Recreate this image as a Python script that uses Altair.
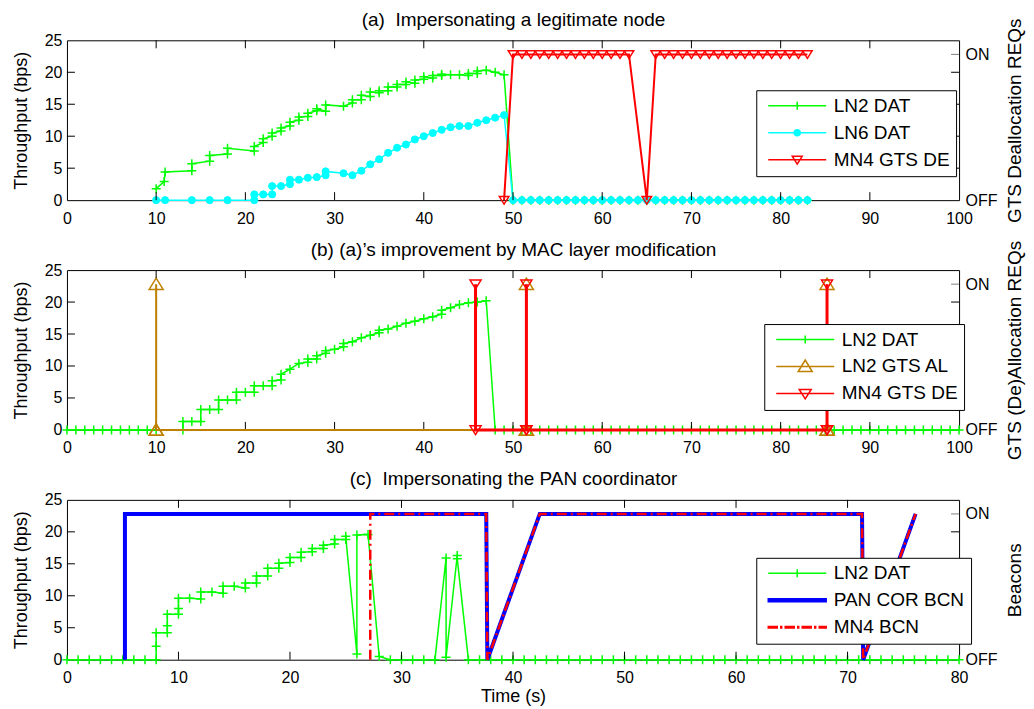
import altair as alt
import pandas as pd

FONT = "Liberation Sans"
W, H = 893, 160
ON_LEVEL = 22.8          # throughput-axis height of the "ON" state
GREEN, CYAN, RED, BROWN, BLUE = "#00FF00", "#00FFFF", "#FF0000", "#BF8000", "#0000FF"

# ---------------- panel (a) ----------------
A_LN2_X = [10, 10.9, 11, 14, 14, 16, 16, 18, 18, 21, 21, 22, 22, 23, 23, 24, 24, 25, 25, 26, 26,
           27, 27, 28, 28, 29, 29, 31, 32, 32, 33, 33, 34, 34, 35, 35, 36, 36, 37, 37, 38, 38, 39, 39,
           40, 40, 41, 41, 42, 42, 43, 44, 45, 45, 46, 46, 47, 48, 49,
           50, 51, 52, 53, 54, 55, 56, 57, 58, 59, 60, 61, 62, 63, 64, 65, 66, 67, 68, 69, 70, 71,
           72, 73, 74, 75, 76, 77, 78, 79, 80, 81, 82, 83]
A_LN2_Y = [1.8, 2.9, 4.4, 4.6, 5.7, 6.1, 7.0, 7.2, 8.1, 7.7, 8.4, 9.0, 9.6, 10.0, 10.5, 10.8, 11.3,
           11.6, 12.2, 12.5, 13.0, 13.1, 13.6, 14.0, 14.3, 13.9, 14.9, 14.7, 15.2, 15.7, 15.7, 16.4,
           16.2, 16.9, 16.8, 17.1, 17.1, 17.7, 17.7, 18.1, 18.1, 18.5, 18.3, 18.8, 18.9, 19.3, 19.1,
           19.5, 19.5, 19.7, 19.6, 19.6, 19.5, 19.8, 19.8, 20.2, 20.3, 20.0, 19.6,
           0, 0, 0, 0, 0, 0, 0, 0, 0, 0, 0, 0, 0, 0, 0, 0, 0, 0, 0, 0, 0, 0,
           0, 0, 0, 0, 0, 0, 0, 0, 0, 0, 0, 0]
A_LN6_X = [10, 11, 14, 16, 18, 21, 21, 22, 23, 23, 24, 25, 25, 26, 27, 28, 29, 29, 31, 32, 33, 34,
           35, 36, 37, 38, 39, 40, 41, 42, 43, 44, 45, 46, 47, 48, 49,
           50, 51, 52, 53, 54, 55, 56, 57, 58, 59, 60, 61, 62, 63, 64, 65, 66, 67, 68, 69, 70, 71,
           72, 73, 74, 75, 76, 77, 78, 79, 80, 81, 82, 83]
A_LN6_Y = [0, 0, 0, 0, 0, 0, 0.9, 0.9, 0.9, 2.2, 2.2, 2.5, 3.2, 3.2, 3.5, 3.6, 3.9, 4.5, 4.2, 3.9,
           4.6, 5.6, 6.4, 7.4, 8.2, 8.7, 9.5, 10.0, 10.5, 11.0, 11.4, 11.6, 11.6, 12.1, 12.5, 12.9, 13.3,
           0, 0, 0, 0, 0, 0, 0, 0, 0, 0, 0, 0, 0, 0, 0, 0, 0, 0, 0, 0, 0, 0,
           0, 0, 0, 0, 0, 0, 0, 0, 0, 0, 0, 0]
A_MN4_X = [49, 50, 51, 52, 53, 54, 55, 56, 57, 58, 59, 60, 61, 62, 63, 65,
           66, 67, 68, 69, 70, 71, 72, 73, 74, 75, 76, 77, 78, 79, 80, 81, 82, 83]
A_MN4_S = [0, 1, 1, 1, 1, 1, 1, 1, 1, 1, 1, 1, 1, 1, 1, 0,
           1, 1, 1, 1, 1, 1, 1, 1, 1, 1, 1, 1, 1, 1, 1, 1, 1, 1]

# ---------------- panel (b) ----------------
B_LN2_X = [0, 1, 2, 3, 4, 5, 6, 7, 8, 9, 10, 13, 13, 14, 15, 15, 16, 17, 17, 18, 19, 19, 20, 21, 21,
           22, 23, 23, 24, 24, 25, 26, 27, 27, 28, 28, 29, 29, 30, 31, 31, 32, 33, 34, 35, 35, 36, 37,
           38, 39, 40, 41, 42, 42, 43, 44, 45, 46, 47,
           48, 49, 50, 51, 52, 53, 54, 55, 56, 57, 58, 59, 60, 61, 62, 63, 64, 65, 66, 67, 68, 69,
           70, 71, 72, 73, 74, 75, 76, 77, 78, 79, 80, 81, 82, 83, 84, 85, 86, 87, 88, 89, 90, 91,
           92, 93, 94, 95, 96, 97, 98, 99, 100]
B_LN2_Y = [0, 0, 0, 0, 0, 0, 0, 0, 0, 0, 0, 0, 1.3, 1.3, 1.3, 3.2, 3.2, 3.2, 4.7, 4.7, 4.7, 5.9, 5.9,
           5.9, 6.9, 6.9, 6.9, 7.7, 7.8, 8.7, 9.5, 10.4, 10.6, 11.1, 11.1, 11.6, 12.0, 12.4, 12.6,
           13.0, 13.5, 13.8, 14.4, 14.8, 15.2, 15.6, 15.8, 16.2, 16.7, 17.0, 17.4, 17.7, 18.1, 18.7,
           19.1, 19.6, 19.9, 20.0, 20.2,
           0, 0, 0, 0, 0, 0, 0, 0, 0, 0, 0, 0, 0, 0, 0, 0, 0, 0, 0, 0, 0, 0,
           0, 0, 0, 0, 0, 0, 0, 0, 0, 0, 0, 0, 0, 0, 0, 0, 0, 0, 0, 0, 0, 0,
           0, 0, 0, 0, 0, 0, 0, 0, 0]
B_AL_X = [10, 10, 10, 51.5, 51.5, 51.5, 85.2, 85.2, 85.2]
B_AL_S = [0, 1, 0, 0, 1, 0, 0, 1, 0]
B_DE_X = [45.8, 45.8, 51.5, 51.5, 51.5, 85.2, 85.2, 85.2]
B_DE_S = [1, 0, 0, 1, 0, 0, 1, 0]

# ---------------- panel (c) ----------------
C_LN2_X = [0, 1, 2, 3, 4, 5, 6, 7, 8, 8, 8, 9, 9, 9, 10, 10, 10, 11, 12, 12, 13, 14, 14, 15, 16,
           16, 17, 17, 18, 18, 19, 19, 20, 20, 21, 21, 22, 22, 23, 23, 24, 24, 25, 25, 26, 26, 27,
           28, 29, 30, 31, 32, 33, 34, 34, 35, 35, 36,
           37, 38, 39, 40, 41, 42, 43, 44, 45, 46, 47, 48, 49, 50, 51, 52, 53, 54, 55, 56, 57, 58,
           59, 60, 61, 62, 63, 64, 65, 66, 67, 68, 69, 70, 71, 72, 73, 74, 75, 76, 77, 78, 79, 80]
C_LN2_Y = [0, 0, 0, 0, 0, 0, 0, 0, 0, 2.1, 4.2, 4.2, 5.3, 7.1, 7.1, 8.0, 9.6, 9.6, 9.5, 10.6, 10.6,
           10.4, 11.5, 11.5, 11.2, 12.0, 12.0, 13.1, 13.1, 14.3, 14.3, 15.1, 15.2, 16.0, 16.0, 16.8,
           16.9, 17.4, 17.4, 17.9, 18.1, 18.8, 18.8, 19.3, 0.9, 19.5, 19.6, 0.5, 0, 0, 0, 0, 0,
           15.9, 0.4, 16.3, 15.8, 0,
           0, 0, 0, 0, 0, 0, 0, 0, 0, 0, 0, 0, 0, 0, 0, 0, 0, 0, 0, 0, 0, 0,
           0, 0, 0, 0, 0, 0, 0, 0, 0, 0, 0, 0, 0, 0, 0, 0, 0, 0, 0, 0, 0, 0]
C_PAN_X = [5.2, 5.2, 37.6, 37.7, 42.4, 71.3, 71.4, 76.1]
C_PAN_S = [0, 1, 1, 0, 1, 1, 0, 1]
C_MN4_X = [27.2, 27.2, 37.6, 37.7, 42.4, 71.3, 71.4, 76.1]
C_MN4_S = [0, 1, 1, 0, 1, 1, 0, 1]

Y_TICKS = [0, 5, 10, 15, 20, 25]
X_TICKS_100 = [0, 10, 20, 30, 40, 50, 60, 70, 80, 90, 100]
X_TICKS_80 = [0, 10, 20, 30, 40, 50, 60, 70, 80]

# marker shapes (custom paths, unit box)
CROSS = "M-1,0H1M0,-1V1"
TRI_DOWN = "M-1,-0.75L1,-0.75L0,0.85Z"
TRI_UP = "M-1,0.75L1,0.75L0,-0.85Z"

# legend symbols (1 unit = 5 px at symbol size 100)
LG_LINE = "M-5.8,0H5.8"
LG_CROSS = LG_LINE + "M0,-0.8V0.8"
LG_DOT = LG_LINE + "M0.6,0A0.6,0.6,0,1,1,-0.6,0A0.6,0.6,0,1,1,0.6,0Z"
LG_TRI_DOWN_A = LG_LINE + "M-1,-0.7L1,-0.7L0,0.9Z"
LG_TRI_UP_B = LG_LINE + "M-1.4,1L1.4,1L0,-1.3Z"
LG_TRI_DOWN_B = LG_LINE + "M-1.2,-0.8L1.2,-0.8L0,1.1Z"
LG_THICK = "M-5.8,-0.3H5.8V0.3H-5.8Z"
LG_DASHDOT = ("M-5.8,-0.15H-4V0.15H-5.8Z M-3.3,-0.15H-3.1V0.15H-3.3Z M-2.4,-0.15H-0.6V0.15H-2.4Z "
              "M0.1,-0.15H0.3V0.15H0.1Z M1,-0.15H2.8V0.15H1Z M3.5,-0.15H3.7V0.15H3.5Z M4.4,-0.15H5.8V0.15H4.4Z")


def frame(xs, ys, col="y"):
    assert len(xs) == len(ys)
    return pd.DataFrame({"x": xs, col: ys, "i": list(range(len(xs)))})


def make_legend(lx, ly):
    return alt.Legend(
        orient="none", legendX=lx, legendY=ly, title=None, padding=6,
        symbolSize=100, symbolOffset=25.5, labelOffset=27, rowPadding=7,
        labelFontSize=19, labelFont=FONT, labelColor="black",
        strokeColor="black", fillColor="white", cornerRadius=0, symbolStrokeWidth=1.5,
        symbolOpacity=1,
    )


def panel(title, xmax, xticks, xtitle, right_title, left_specs, right_specs, names, colors,
          shapes, fills, lx, ly):
    xscale = alt.Scale(domain=[0, xmax], nice=False, zero=False)
    X = alt.X("x:Q", scale=xscale,
              axis=alt.Axis(orient="bottom", values=xticks, ticks=False, tickSize=0, domain=False,
                            grid=False, labelPadding=10, labelFontSize=16, labelFlush=False,
                            title=xtitle, titleFontSize=18, titlePadding=2))
    # separate (identical) x scale whose top axis carries the panel title only
    XT = alt.X("x:Q", scale=xscale,
               axis=alt.Axis(orient="top", labels=False, ticks=False, tickSize=0, domain=False,
                             grid=False, title=title, titleFontSize=19, titlePadding=11))
    YL = alt.Y("y:Q", scale=alt.Scale(domain=[0, 25], nice=False),
               axis=alt.Axis(values=Y_TICKS, ticks=False, tickSize=0, domain=False, grid=False,
                             labelPadding=5, labelFontSize=16, labelFlush=False,
                             title="Throughput (bps)", titleFontSize=18, titlePadding=14))
    YR = alt.Y("state:Q", scale=alt.Scale(domain=[0, 25 / ON_LEVEL], nice=False),
               axis=alt.Axis(orient="right", values=[0, 1],
                             labelExpr="datum.value == 1 ? 'ON' : 'OFF'",
                             ticks=False, tickSize=0, domain=False, grid=False, labelPadding=6,
                             labelFontSize=16, labelFlush=False, title=right_title,
                             titleFontSize=19, titleAngle=270, titlePadding=28))

    def build(specs, ycol, Y):
        layers = []
        for sp in specs:
            base = alt.Chart(frame(sp["x"], sp["y"], ycol))
            layers.append(base.mark_line(**sp["line"]).encode(x=X, y=Y, order="i:Q"))
            if sp.get("marker"):
                layers.append(base.mark_point(opacity=1, **sp["marker"]).encode(x=X, y=Y))
        return layers

    # legend: one hidden layer whose rows have no position (filtered), only series names
    legend = make_legend(lx, ly)
    leg_df = pd.DataFrame({"series": names, "x": [None] * len(names), "y": [None] * len(names)})
    leg_layer = alt.Chart(leg_df).mark_point(size=100, strokeWidth=1.5, opacity=1).encode(
        x=X, y=YL,
        stroke=alt.Stroke("series:N", scale=alt.Scale(domain=names, range=colors), legend=legend),
        fill=alt.Fill("series:N", scale=alt.Scale(domain=names, range=fills), legend=legend),
        shape=alt.Shape("series:N", scale=alt.Scale(domain=names, range=shapes), legend=legend),
    )

    xt = pd.DataFrame({"x": xticks[1:-1]})
    yt = pd.DataFrame({"y": Y_TICKS[1:-1]})
    tick_layers = [
        alt.Chart(xt).mark_rule(color="black", strokeWidth=1).encode(x=X, y=alt.value(H), y2=alt.value(H - 8)),
        alt.Chart(yt).mark_rule(color="black", strokeWidth=1).encode(y=YL, x=alt.value(0), x2=alt.value(8)),
        alt.Chart(yt).mark_rule(color="black", strokeWidth=1).encode(y=YL, x=alt.value(W), x2=alt.value(W - 8)),
    ]
    top_ticks = alt.Chart(xt).mark_rule(color="black", strokeWidth=1).encode(
        x=XT, y=alt.value(0), y2=alt.value(8))

    left = alt.layer(*(build(left_specs, "y", YL) + tick_layers + [leg_layer]))
    on_tick = alt.Chart(pd.DataFrame({"state": [1]})).mark_rule(color="#808080", strokeWidth=1).encode(
        y=YR, x=alt.value(W - 8), x2=alt.value(W))
    right = alt.layer(*(build(right_specs, "state", YR) + [on_tick]))
    main = alt.layer(left, right).resolve_scale(y="independent")
    return alt.layer(main, top_ticks).resolve_scale(x="independent").properties(width=W, height=H)


cross_marker = dict(shape=CROSS, size=81, filled=False, stroke=GREEN, strokeWidth=1.5)

pa = panel(
    "(a)\u00a0 Impersonating a legitimate node", 100, X_TICKS_100, None, "GTS Deallocation REQs",
    [
        dict(x=A_LN2_X, y=A_LN2_Y, line=dict(strokeWidth=1.5, stroke=GREEN), marker=cross_marker),
        dict(x=A_LN6_X, y=A_LN6_Y, line=dict(strokeWidth=1.5, stroke=CYAN),
             marker=dict(shape="circle", size=50, filled=True, fill=CYAN, stroke=CYAN, strokeWidth=1)),
    ],
    [
        dict(x=A_MN4_X, y=A_MN4_S, line=dict(strokeWidth=2, stroke=RED),
             marker=dict(shape=TRI_DOWN, size=90, filled=False, stroke=RED, strokeWidth=1.5)),
    ],
    ["LN2 DAT", "LN6 DAT", "MN4 GTS DE"], [GREEN, CYAN, RED],
    [LG_CROSS, LG_DOT, LG_TRI_DOWN_A], ["transparent", CYAN, "transparent"], 690, 50)

pb = panel(
    "(b) (a)\u2019s improvement by MAC layer modification", 100, X_TICKS_100, None,
    "GTS (De)Allocation REQs",
    [
        dict(x=B_LN2_X, y=B_LN2_Y, line=dict(strokeWidth=1.5, stroke=GREEN), marker=cross_marker),
    ],
    [
        dict(x=B_AL_X, y=B_AL_S, line=dict(strokeWidth=2, stroke=BROWN),
             marker=dict(shape=TRI_UP, size=196, filled=False, stroke=BROWN, strokeWidth=1.5)),
        dict(x=B_DE_X, y=B_DE_S, line=dict(strokeWidth=3, stroke=RED),
             marker=dict(shape=TRI_DOWN, size=121, filled=False, stroke=RED, strokeWidth=1.5)),
    ],
    ["LN2 DAT", "LN2 GTS AL", "MN4 GTS DE"], [GREEN, BROWN, RED],
    [LG_CROSS, LG_TRI_UP_B, LG_TRI_DOWN_B], ["transparent", "transparent", "transparent"], 698, 54)

pc = panel(
    "(c)\u00a0 Impersonating the PAN coordinator", 80, X_TICKS_80, "Time (s)", "Beacons",
    [
        dict(x=C_LN2_X, y=C_LN2_Y, line=dict(strokeWidth=1.5, stroke=GREEN), marker=cross_marker),
    ],
    [
        dict(x=C_PAN_X, y=C_PAN_S, line=dict(strokeWidth=4, stroke=BLUE, strokeJoin="miter", strokeCap="butt")),
        dict(x=C_MN4_X, y=C_MN4_S,
             line=dict(strokeWidth=2.5, stroke=RED, strokeDash=[10, 4, 2, 4], strokeJoin="miter", strokeCap="butt")),
    ],
    ["LN2 DAT", "PAN COR BCN", "MN4 BCN"], [GREEN, BLUE, RED],
    [LG_CROSS, LG_THICK, LG_DASHDOT], ["transparent", BLUE, RED], 690, 58)

chart = alt.vconcat(pa, pb, pc, spacing=70, bounds="flush").resolve_scale(
    x="independent", y="independent", stroke="independent", fill="independent", shape="independent"
).resolve_legend(stroke="independent", fill="independent", shape="independent").properties(
    padding={"left": 3, "top": 1, "right": 0, "bottom": 0}
).configure(font=FONT).configure_view(stroke="black", strokeWidth=1).configure_axis(
    labelColor="black", titleColor="black", labelFont=FONT, titleFont=FONT, titleFontWeight="normal"
).configure_title(font=FONT, color="black")

chart.save("out.html", embed_options={"renderer": "svg", "actions": False})
